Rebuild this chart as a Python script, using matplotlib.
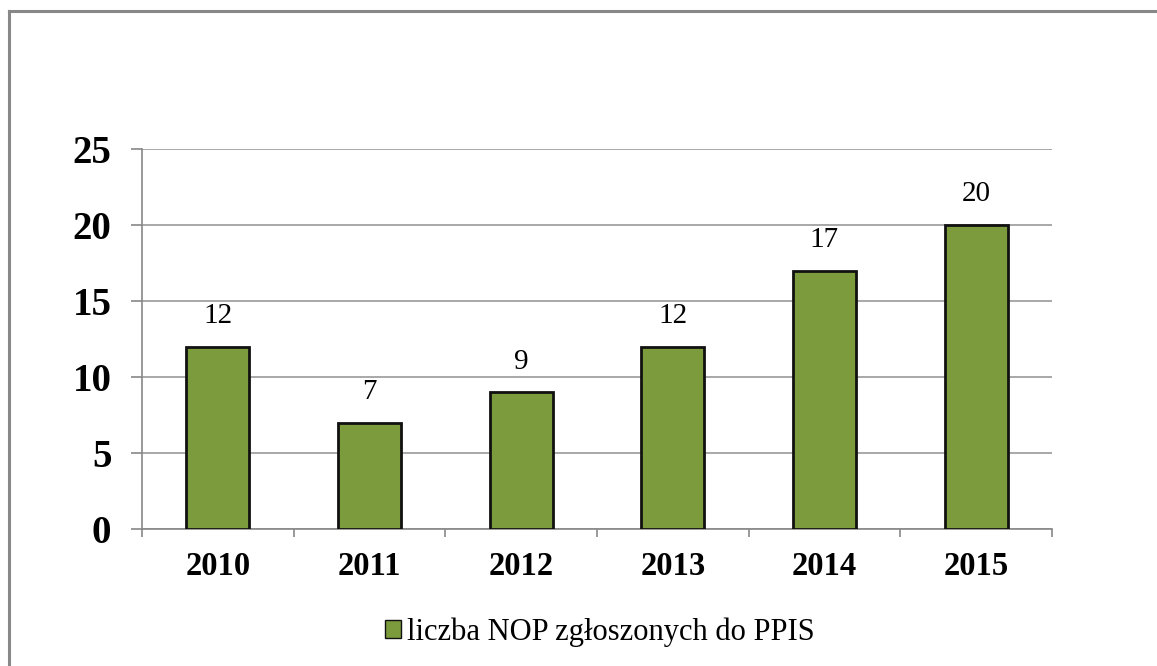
import matplotlib
matplotlib.use("Agg")
import matplotlib.pyplot as plt
from matplotlib.lines import Line2D
from matplotlib.patches import Patch

years = ["2010", "2011", "2012", "2013", "2014", "2015"]
values = [12, 7, 9, 12, 17, 20]
series_name = "liczba NOP zgłoszonych do PPIS"
yticks = [0, 5, 10, 15, 20, 25]

W, H = 1157, 666
fig = plt.figure(figsize=(W / 100, H / 100), dpi=100)
fig.patch.set_facecolor("white")

ax = fig.add_axes([142 / W, 1 - 529 / H, (1052 - 142) / W, (529 - 149) / H])
x = list(range(len(years)))
bars = ax.bar(x, values, width=0.415, color="#7C9B3D", edgecolor="#111111", linewidth=2, zorder=3)

for xi, v in zip(x, values):
    ax.annotate(str(v), (xi, v), xytext=(0, 17), textcoords="offset points",
                ha="center", va="baseline", fontsize=21, family="Liberation Serif")

ax.set_xlim(-0.5, len(years) - 0.5)
ax.set_ylim(0, 25)
ax.set_yticks(yticks)
ax.set_yticklabels([str(t) for t in yticks], fontsize=28, fontweight="bold", family="Liberation Serif")
ax.set_xticks(x)
ax.set_xticklabels(years, fontsize=23.5, fontweight="bold", family="Liberation Serif")
ax.set_xticks([i - 0.5 for i in range(len(years) + 1)], minor=True)
ax.tick_params(axis="x", which="major", length=0, pad=16)
ax.tick_params(axis="x", which="minor", length=6, color="#888888", width=1.2)
ax.tick_params(axis="y", length=8, color="#888888", width=1.2, pad=14)
ax.grid(axis="y", color="#999999", linewidth=1.2, zorder=0)
for s in ["top", "right"]:
    ax.spines[s].set_visible(False)
for s in ["left", "bottom"]:
    ax.spines[s].set_color("#888888")
    ax.spines[s].set_linewidth(1.2)

# outer chart border (top and left visible)
fig.add_artist(Line2D([9 / W, 1], [1 - 11 / H, 1 - 11 / H], color="#888888", linewidth=2.2, transform=fig.transFigure))
fig.add_artist(Line2D([9 / W, 9 / W], [0, 1 - 11 / H], color="#888888", linewidth=2.2, transform=fig.transFigure))

handle = Patch(facecolor="#7C9B3D", edgecolor="#111111", linewidth=1)
fig.legend([handle], [series_name], loc="center", bbox_to_anchor=(600 / W, 1 - 632 / H),
           frameon=False, prop={"family": "Liberation Serif", "size": 22},
           handlelength=0.5, handleheight=0.5, handletextpad=0.2)

fig.savefig("out.png", dpi=100)
